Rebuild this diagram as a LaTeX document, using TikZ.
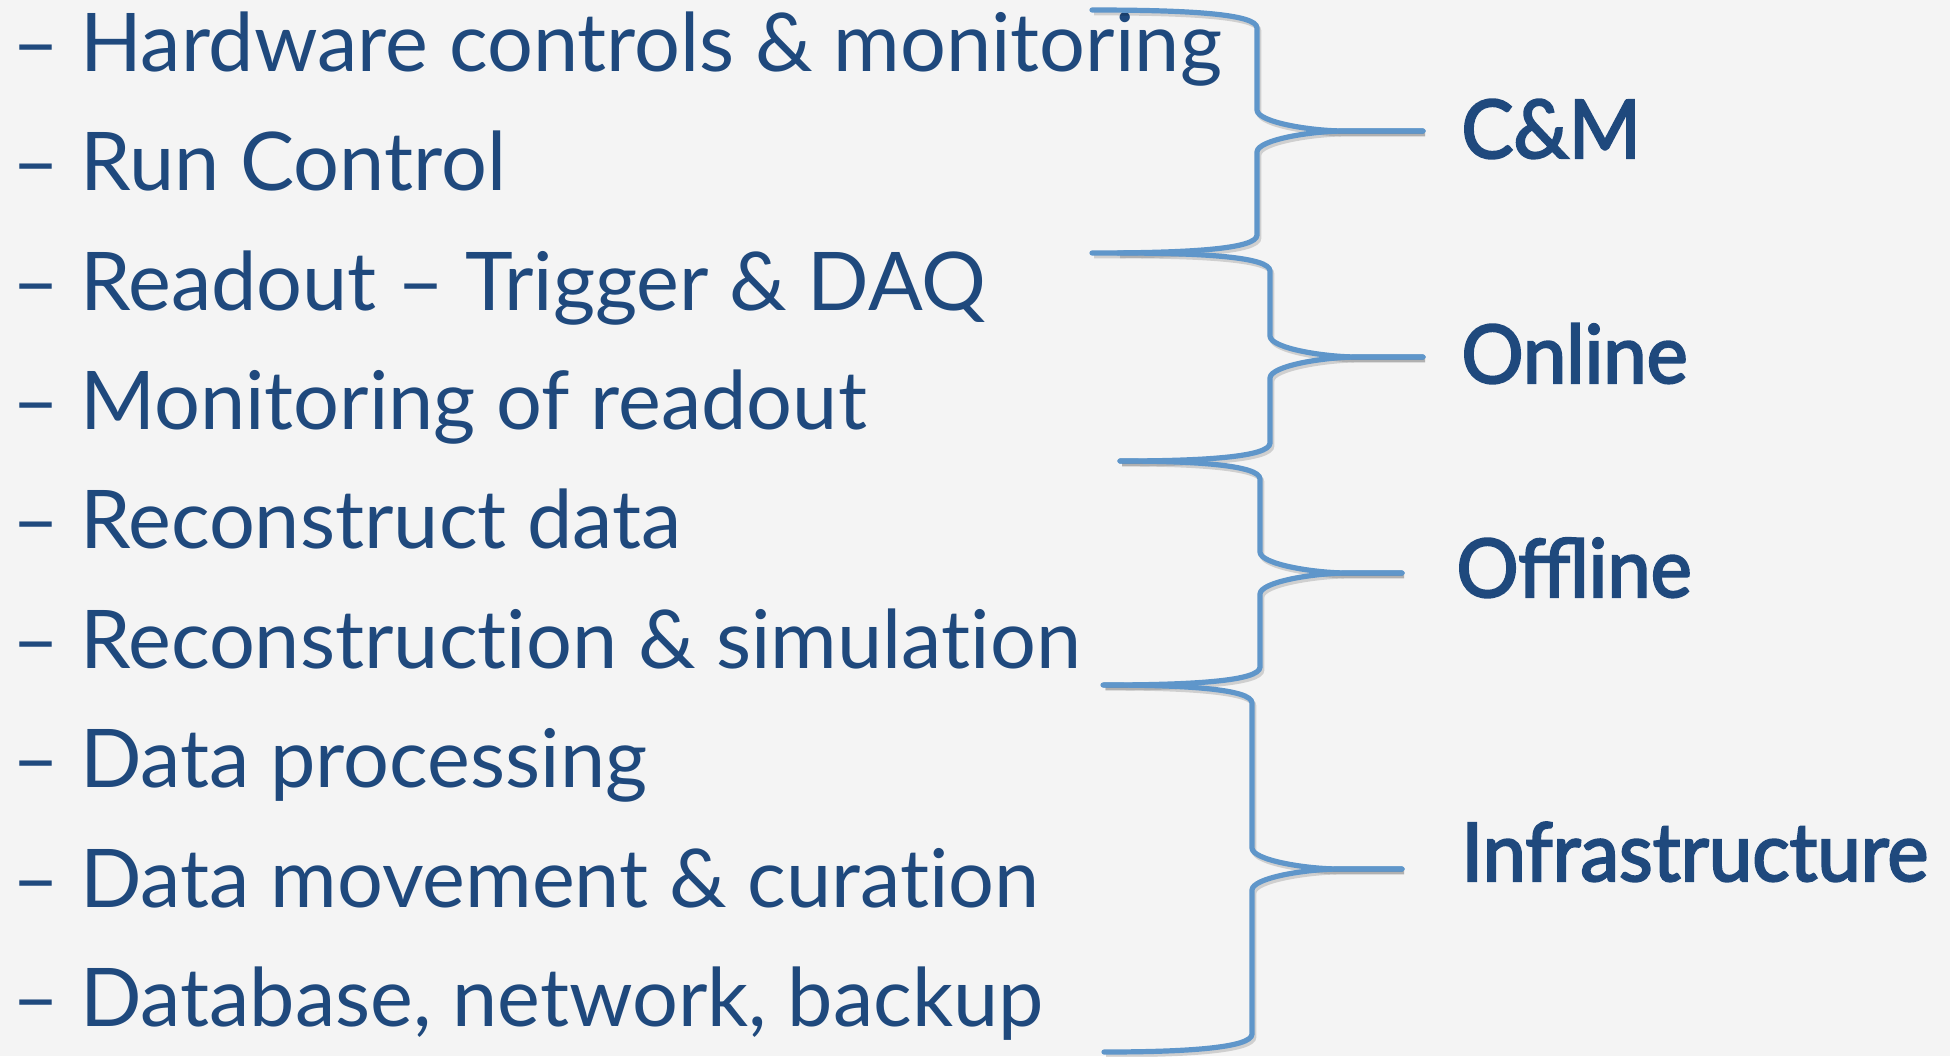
\documentclass[tikz,border=0pt]{standalone}
\usepackage{fontspec}
\setmainfont{Lato}[Ligatures=NoCommon]
\newfontfamily\groupfont{Lato}[FakeBold=2.6,FakeStretch=0.96]
\usepackage{xcolor}
\definecolor{BgGray}{HTML}{F4F4F4}
\definecolor{ItemBlue}{HTML}{1F497D}
\definecolor{BraceBlue}{HTML}{5F96CA}
\usepackage{tikz}
\usetikzlibrary{positioning}

% curly brace: top-left x, bottom-left x, spine x, tip x, top y, tip y, bottom y
\newcommand\curly[7]{%
  \draw[curlyline] (#1,#5) .. controls ({#3-67},#5) and (#3,{#5+4}) .. (#3,{#5+18})
    -- (#3,{#6-21}) .. controls (#3,{#6-9}) and ({#3+53},#6) .. ({#3+88},#6) -- (#4,#6);
  \draw[curlyline] (#4,#6) -- ({#3+88},#6) .. controls ({#3+53},#6) and (#3,{#6+9}) .. (#3,{#6+21})
    -- (#3,{#7-18}) .. controls (#3,{#7-4}) and ({#3-67},#7) .. (#2,#7);
}

\begin{document}
\begin{tikzpicture}[x=0.5pt,y=-0.5pt]
\tikzset{
  item/.style={anchor=base west,inner sep=0pt,text=ItemBlue,font=\fontsize{40.5}{48}\selectfont},
  group/.style={anchor=base west,inner sep=0pt,text=ItemBlue,font=\groupfont\fontsize{40.5}{48}\selectfont},
  curlyline/.style={draw=BraceBlue,line width=2.6pt,line cap=round,line join=round,
    preaction={draw=black,opacity=.15,line width=2.4pt,transform canvas={shift={(2,3)}}}}
}
\fill[BgGray] (0,0) rectangle (1950,1056);
\useasboundingbox (0,0) rectangle (1950,1056);

\node[item] (hw)   at (12,71)   {– Hardware controls \& monitoring};
\node[item] (rc)   at (12,190)  {– Run Control};
\node[item] (ro)   at (12,310)  {– Readout – Trigger \& DAQ};
\node[item] (mon)  at (12,429)  {– Monitoring of readout};
\node[item] (rec)  at (12,548)  {– Reconstruct data};
\node[item] (sim)  at (12,668)  {– Reconstruction \& simulation};
\node[item] (proc) at (12,787)  {– Data processing};
\node[item] (move) at (12,907)  {– Data movement \& curation};
\node[item] (db)   at (12,1026) {– Database, network, backup};

% braces and the groups they collect
\curly{1092}{1092}{1257}{1423}{10}{131}{253}
\curly{1118}{1120}{1270}{1423}{253}{357}{461}
\curly{1120}{1103}{1260}{1402}{461}{573}{685}
\curly{1104}{1104}{1252}{1402}{685}{869}{1052}

\node[group] (cm)      at (1461,158) {C\&M};
\node[group] (online)  at (1461,383) {Online};
\node[group] (offline) at (1456,597) {Offline};
\node[group] (infra)   at (1461,881) {Infrastructure};
\end{tikzpicture}
\end{document}
